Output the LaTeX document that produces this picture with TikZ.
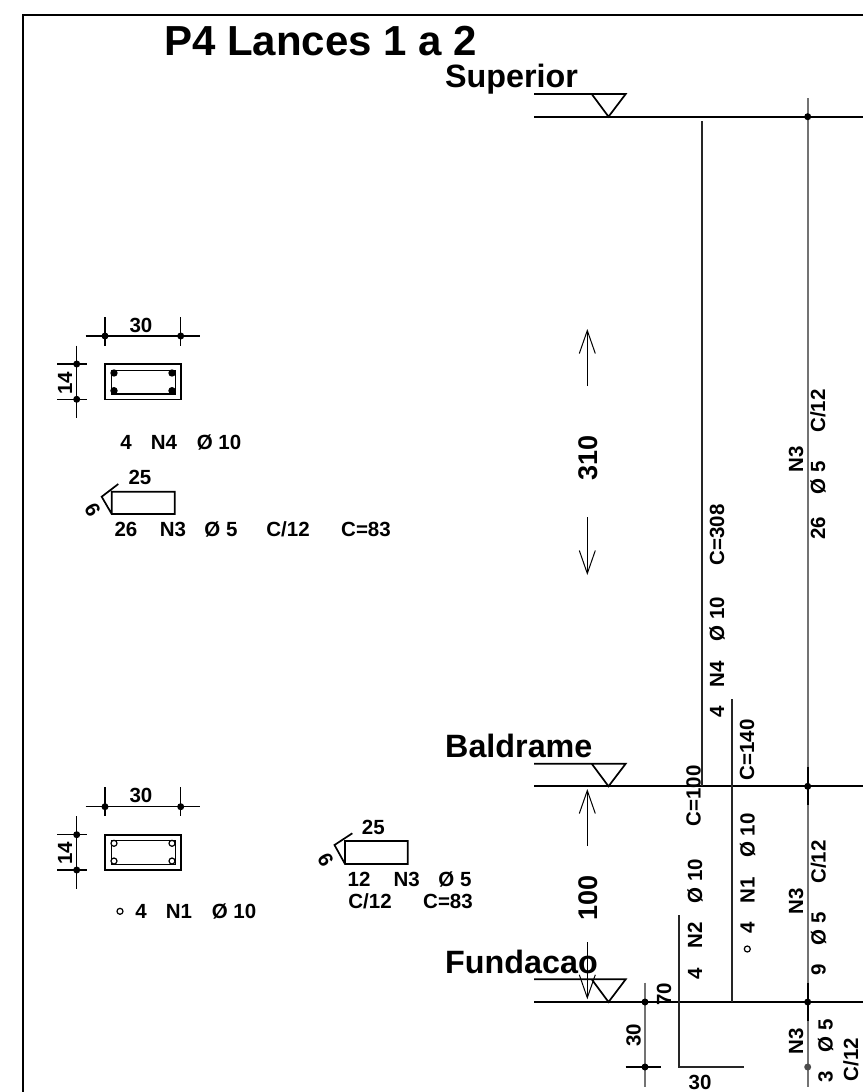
\documentclass[tikz,border=0pt]{standalone}
\usepackage{fontspec}
\setmainfont{Liberation Sans}
\usetikzlibrary{arrows.meta}
\tikzset{
  txt/.style={inner sep=0pt,font=\bfseries\fontsize{20.5}{20.5}\selectfont},
  txtb/.style={txt,anchor=base},
  vtxt/.style={txt,rotate=90},
  bigtxt/.style={inner sep=0pt,anchor=base west,font=\bfseries\fontsize{32.3}{33}\selectfont},
  dimtxt/.style={inner sep=0pt,rotate=90,font=\bfseries\fontsize{27}{27}\selectfont},
  thick line/.style={line width=1.7pt},
  thin line/.style={line width=1.2pt},
  grey line/.style={line width=1.6pt,color=black!55},
  bar/.style={line width=2pt,color=black!85},
  dimarrow/.style={line width=1pt,-{Straight Barb[length=23pt,width=16pt,line width=1pt]}},
}
\begin{document}
\begin{tikzpicture}[x=1pt,y=1pt,yscale=-1,xscale=1]
\useasboundingbox (0,0) rectangle (863,1092);

%Frame
\draw [thick line] (863,14.7) -- (22.7,14.7) -- (22.7,1092);

%Title
\node [inner sep=0pt,anchor=base west,font=\bfseries\fontsize{42}{42}\selectfont] (title) at (164,55) {P4 Lances 1 a 2};

%Level marks
\foreach \lvlup/\lvldown in {94/116.7,763.7/786.3,979.3/1002}{
  \draw [thick line] (534,\lvlup) -- (625.7,\lvlup) -- (608.5,\lvldown) -- (591.7,\lvlup);
  \draw [thick line] (534,\lvldown) -- (863,\lvldown);
}
\node [bigtxt] (superior) at (445,87) {Superior};
\node [bigtxt] (baldrame) at (445,757) {Baldrame};
\node [bigtxt] (fundacao) at (445,973) {Fundacao};

%Bars
\draw [bar] (701.7,121) -- (701.7,786.3);
\draw [bar] (732,699.3) -- (732,1002);
\draw [bar] (678.7,915) -- (678.7,1067) -- (744.3,1067);

%Stirrup line
\draw [grey line] (807.7,98) -- (807.7,1087);
\draw [thick line] (807.7,766.7) -- (807.7,805);
\draw [thick line] (807.7,982.7) -- (807.7,1021);
\foreach \doty in {116.7,786.3,1002}{
  \fill (807.7,\doty) circle [radius=3.5];
}
\fill [black!70] (807.7,1067) circle [radius=3.5];

%Foundation dimension
\draw [grey line] (645,982.7) -- (645,1087);
\draw [thin line] (625.7,1067) -- (660.7,1067);
\fill (645,1002) circle [radius=3.5];
\fill (645,1067) circle [radius=3.5];

%Storey dimension arrows
\draw [dimarrow] (587.3,386) -- (587.3,329);
\draw [dimarrow] (587.3,517) -- (587.3,575);
\draw [dimarrow] (587.3,846) -- (587.3,789);
\draw [dimarrow] (587.3,942) -- (587.3,999.3);
\node [dimtxt] (h310) at (588,457.5) {310};
\node [dimtxt] (h100) at (588,898) {100};

%Bar labels
\node [vtxt] (n4c) at (717,535) {C=308};
\node [vtxt] (n4d) at (717,619) {Ø 10};
\node [vtxt] (n4n) at (717,674) {N4};
\node [vtxt] (n4q) at (717,712) {4};

\node [vtxt] (n1c) at (747,750) {C=140};
\node [vtxt] (n1d) at (747.5,835.5) {Ø 10};
\node [vtxt] (n1n) at (747.5,890.5) {N1};
\node [vtxt] (n1q) at (747.5,928) {4};
\draw [thin line] (747.3,949) circle [radius=3];

\node [vtxt] (n2c) at (693.5,796) {C=100};
\node [vtxt] (n2d) at (695,881) {Ø 10};
\node [vtxt] (n2n) at (695,935.5) {N2};
\node [vtxt] (n2q) at (695,974) {4};

\node [vtxt] (n3ac) at (818,411) {C/12};
\node [vtxt] (n3an) at (796,459) {N3};
\node [vtxt] (n3ad) at (818,478) {Ø 5};
\node [vtxt] (n3aq) at (818,528) {26};

\node [vtxt] (n3bc) at (818.5,862) {C/12};
\node [vtxt] (n3bn) at (796,901.5) {N3};
\node [vtxt] (n3bd) at (818.5,929) {Ø 5};
\node [vtxt] (n3bq) at (818.5,969.5) {9};

\node [vtxt] (n3cn) at (796,1041) {N3};
\node [vtxt] (n3cd) at (825.5,1035.5) {Ø 5};
\node [vtxt] (n3cq) at (825.5,1077) {3};
\node [vtxt] (n3cc) at (851,1059.5) {C/12};

\node [vtxt] (h70) at (664,994) {70};
\node [vtxt] (h30) at (633.5,1035.5) {30};
\node [txtb] (b30) at (700,1089) {30};

%Upper section
\draw [thin line] (85.7,336) -- (200,336);
\draw [thin line] (105,317) -- (105,345.7);
\draw [thin line] (180.7,317) -- (180.7,345.7);
\draw [thin line] (76.7,345.7) -- (76.7,418);
\draw [thin line] (57.3,364) -- (86.7,364);
\draw [thin line] (57.3,399.3) -- (86.7,399.3);
\foreach \dotx/\doty in {105/336,180.7/336,76.7/364,76.7/399.3}{
  \fill (\dotx,\doty) circle [radius=3.5];
}
\draw [thick line] (105,364) rectangle (181,399.5);
\draw [thin line] (111.7,370.7) rectangle (175.7,394);
\foreach \dotx/\doty in {114/373,172/373,114/390.7,172/390.7}{
  \fill (\dotx,\doty) circle [radius=3.7];
}
\node [txt] (ua30) at (141,325) {30};
\node [vtxt] (ua14) at (65,383) {14};
\node [txtb] (ub4) at (126,449) {4};
\node [txtb] (ubn) at (164,449) {N4};
\node [txtb] (ubd) at (219,449) {Ø 10};

%Upper stirrup
\draw [thick line] (118.3,484) -- (101.7,496.7) -- (111.7,514) -- (174.7,514) -- (174.7,491.7) -- (111.7,491.7) -- (111.7,514);
\node [txt] (us25) at (140,477.7) {25};
\node [txt,rotate=-60] (us6) at (92.5,510) {6};
\node [txtb] (usq) at (126,536.7) {26};
\node [txtb] (usn) at (173,536.7) {N3};
\node [txtb] (usd) at (221,536.7) {Ø 5};
\node [txtb] (uss) at (288,536.7) {C/12};
\node [txtb] (usl) at (366,536.7) {C=83};

%Lower section
\draw [thin line] (85.7,806.7) -- (200,806.7);
\draw [thin line] (105,787.3) -- (105,816);
\draw [thin line] (180.7,787.3) -- (180.7,816);
\draw [thin line] (76.7,816) -- (76.7,889);
\draw [thin line] (57.3,834.7) -- (86.7,834.7);
\draw [thin line] (57.3,870) -- (86.7,870);
\foreach \dotx/\doty in {105/806.7,180.7/806.7,76.7/834.7,76.7/870}{
  \fill (\dotx,\doty) circle [radius=3.5];
}
\draw [thick line] (105,834.7) rectangle (181,870);
\draw [thin line] (111.7,840.7) rectangle (175.7,864.3);
\foreach \dotx/\doty in {114/843.3,172/843.3,114/861,172/861}{
  \draw [thin line,fill=white] (\dotx,\doty) circle [radius=3];
}
\node [txt] (la30) at (141,795) {30};
\node [vtxt] (la14) at (65,853) {14};
\draw [thin line] (120,911.3) circle [radius=3];
\node [txtb] (lb4) at (141,918) {4};
\node [txtb] (lbn) at (179,918) {N1};
\node [txtb] (lbd) at (234,918) {Ø 10};

%Lower stirrup
\draw [thick line] (352.3,833.3) -- (334.5,845) -- (345,864) -- (407.7,864) -- (407.7,841) -- (345,841) -- (345,864);
\node [txt] (ls25) at (373.3,827) {25};
\node [txt,rotate=-60] (ls6) at (325.5,860) {6};
\node [txtb] (lsq) at (359,886.7) {12};
\node [txtb] (lsn) at (406.7,886.7) {N3};
\node [txtb] (lsd) at (455,886.7) {Ø 5};
\node [txtb] (lss) at (370,908) {C/12};
\node [txtb] (lsl) at (448,908) {C=83};

\end{tikzpicture}
\end{document}
